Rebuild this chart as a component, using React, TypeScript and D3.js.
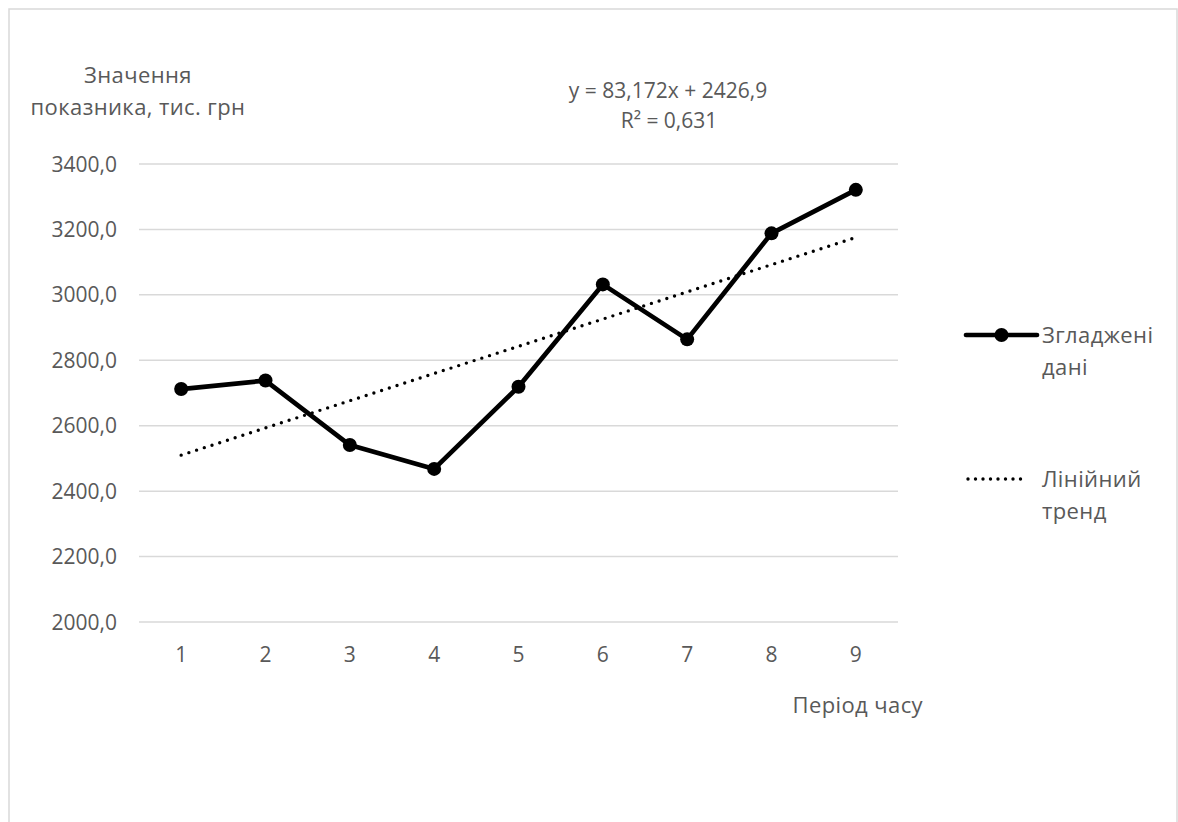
import React from "react";
import * as d3 from "d3";

const categories = ["1", "2", "3", "4", "5", "6", "7", "8", "9"];
const smoothed = [2712, 2738, 2541, 2468, 2719, 3032, 2864, 3188, 3321];
const yTicks = [2000, 2200, 2400, 2600, 2800, 3000, 3200, 3400];
const trendSlope = 83.172;
const trendIntercept = 2426.9;
const equationLabel = "y = 83,172x + 2426,9";
const r2Label = "0,631";
const yTitle = ["Значення", "показника, тис. грн"];
const xTitle = "Період часу";
const legendSeries = ["Згладжені", "дані"];
const legendTrend = ["Лінійний", "тренд"];

const W = 1178;
const H = 822;
const FONT = "'Open Sans', 'DejaVu Sans', sans-serif";
const TXT = "#595959";
const GRID = "#d9d9d9";
const CYR = { fontSize: 22, letterSpacing: 0.4 };

export default function App() {
  const x = d3.scaleBand<string>().domain(categories).range([139, 898]);
  const y = d3.scaleLinear().domain([2000, 3400]).range([622, 164]);
  const cx = (c: string) => (x(c) as number) + x.bandwidth() / 2;

  const line = d3
    .line<number>()
    .x((_, i) => cx(categories[i]))
    .y((d) => y(d));

  const trendPts: [number, number][] = [1, categories.length].map((k) => [
    cx(categories[k - 1]),
    y(trendSlope * k + trendIntercept),
  ]);
  const trendPath = d3.line()(trendPts) as string;

  const fmt = (v: number) => v.toFixed(1).replace(".", ",");

  return (
    <svg
      width={W}
      height={H}
      style={{ position: "absolute", left: 0, top: 0, background: "#fff" }}
      fontFamily={FONT}
    >
      <rect x={9} y={9} width={1168} height={900} fill="#fff" stroke={GRID} strokeWidth={1.5} />

      {yTicks.map((t) => (
        <g key={t}>
          <line x1={139} x2={898} y1={y(t)} y2={y(t)} stroke={GRID} strokeWidth={1.5} />
          <text x={117} y={y(t) + 7.5} textAnchor="end" fontSize={21} fill={TXT}>
            {fmt(t)}
          </text>
        </g>
      ))}

      {categories.map((c) => (
        <text key={c} x={cx(c)} y={662} textAnchor="middle" fontSize={21} fill={TXT}>
          {c}
        </text>
      ))}

      <text x={138} y={83} textAnchor="middle" {...CYR} fill={TXT}>
        {yTitle[0]}
      </text>
      <text x={138} y={115} textAnchor="middle" {...CYR} fill={TXT}>
        {yTitle[1]}
      </text>

      <text x={923} y={713} textAnchor="end" {...CYR} fill={TXT}>
        {xTitle}
      </text>

      <text x={668} y={98} textAnchor="middle" fontSize={21} fill={TXT}>
        {equationLabel}
      </text>
      <text x={669} y={128} textAnchor="middle" fontSize={21} fill={TXT}>
        R² = {r2Label}
      </text>

      <path
        d={trendPath}
        fill="none"
        stroke="#000"
        strokeWidth={3.4}
        strokeDasharray="0 8.1"
        strokeLinecap="round"
      />

      <path
        d={line(smoothed) as string}
        fill="none"
        stroke="#000"
        strokeWidth={4.7}
        strokeLinejoin="round"
      />
      {smoothed.map((v, i) => (
        <circle key={i} cx={cx(categories[i])} cy={y(v)} r={7} fill="#000" />
      ))}

      <line x1={966} x2={1037} y1={335} y2={335} stroke="#000" strokeWidth={4.7} strokeLinecap="round" />
      <circle cx={1001.5} cy={335} r={7} fill="#000" />
      <text x={1042} y={343} {...CYR} fill={TXT}>
        {legendSeries[0]}
      </text>
      <text x={1042} y={375} {...CYR} fill={TXT}>
        {legendSeries[1]}
      </text>

      <line
        x1={968}
        x2={1028}
        y1={479}
        y2={479}
        stroke="#000"
        strokeWidth={3.4}
        strokeDasharray="0 7.5"
        strokeLinecap="round"
      />
      <text x={1042} y={487} {...CYR} fill={TXT}>
        {legendTrend[0]}
      </text>
      <text x={1042} y={519} {...CYR} fill={TXT}>
        {legendTrend[1]}
      </text>
    </svg>
  );
}
